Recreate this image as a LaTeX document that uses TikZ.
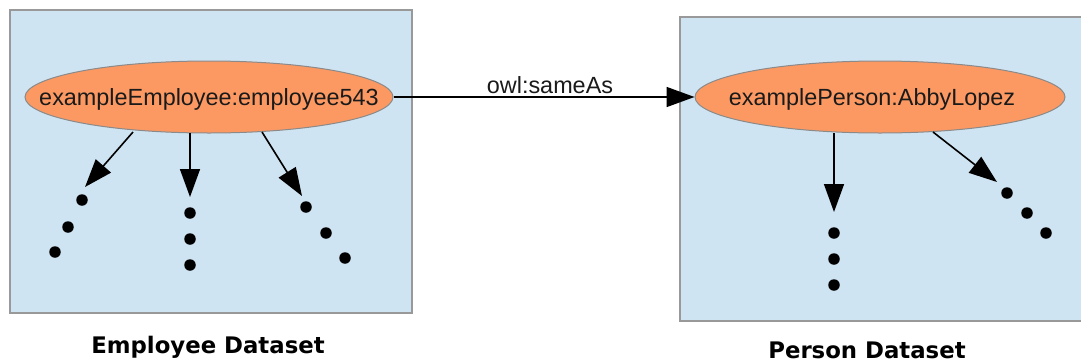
\documentclass[tikz,border=0pt]{standalone}
\usepackage{fontspec}
\setmainfont{Liberation Sans}
\newfontfamily\labelfont{DejaVu Sans}
\usetikzlibrary{shapes.geometric,arrows.meta}
\definecolor{boxfill}{HTML}{CFE4F2}
\definecolor{boxline}{HTML}{999999}
\definecolor{ellfill}{HTML}{FC9963}
\definecolor{ellline}{HTML}{8A8A8A}
\definecolor{txt}{HTML}{1A1A1A}
\newcommand{\ctext}[1]{\makebox[0pt][c]{\smash{\raisebox{-0.36em}{#1}}}}
\tikzset{
  datasetbox/.style={draw=boxline,fill=boxfill,line width=1.4pt},
  resource/.style={ellipse,draw=ellline,fill=ellfill,line width=1pt,inner sep=0pt,
    minimum width=368pt,minimum height=72pt,text=txt,
    font=\fontsize{23.4pt}{26pt}\selectfont},
  edge/.style={line width=1.6pt,-{Triangle[length=28pt,width=20pt]}},
  dot/.style={circle,fill=black,inner sep=0pt,minimum size=11.5pt},
  dslabel/.style={anchor=base,font=\labelfont\bfseries\fontsize{22.8pt}{26pt}\selectfont},
  edgelabel/.style={anchor=base,font=\fontsize{23.4pt}{26pt}\selectfont,text=txt}
}
\begin{document}
\begin{tikzpicture}[x=1pt,y=-1pt]
\useasboundingbox (0,0) rectangle (1081,362);
% boxes
\draw[datasetbox] (10,10) rectangle (412,313);
\draw[datasetbox] (680,17) rectangle (1090,321);
% resources
\node[resource] (emp) at (209,97) {\ctext{exampleEmployee:employee543}};
\node[resource,minimum width=370pt] (per) at (880,97) {\ctext{\hspace*{-16pt}examplePerson:AbbyLopez}};
% sameAs
\draw[edge] (emp.east) -- (per.west);
\node[edgelabel] (sa) at (550,93) {owl:sameAs};
% left fan
\coordinate (s1) at (133,132); \coordinate (t1) at (85,187);
\coordinate (s2) at (190,133); \coordinate (t2) at (190,197);
\coordinate (s3) at (262,132); \coordinate (t3) at (302,196);
\draw[edge] (s1) -- (t1);
\draw[edge] (s2) -- (t2);
\draw[edge] (s3) -- (t3);
\node[dot] (d11) at (82,200) {};
\node[dot] (d12) at (68,227) {};
\node[dot] (d13) at (55,252) {};
\node[dot] (d21) at (190,213) {};
\node[dot] (d22) at (190,239) {};
\node[dot] (d23) at (190,265) {};
\node[dot] (d31) at (306,207) {};
\node[dot] (d32) at (326,233) {};
\node[dot] (d33) at (345,258) {};
% right fan
\coordinate (s4) at (834,133); \coordinate (t4) at (834,212);
\coordinate (s5) at (933,132); \coordinate (t5) at (997,182);
\draw[edge] (s4) -- (t4);
\draw[edge] (s5) -- (t5);
\node[dot] (d41) at (834,233) {};
\node[dot] (d42) at (834,259) {};
\node[dot] (d43) at (834,285) {};
\node[dot] (d51) at (1007,193) {};
\node[dot] (d52) at (1027,213) {};
\node[dot] (d53) at (1046,233) {};
% dataset labels
\node[dslabel] (l1) at (208,353) {Employee Dataset};
\node[dslabel] (l2) at (867,358) {Person Dataset};
\end{tikzpicture}
\end{document}
